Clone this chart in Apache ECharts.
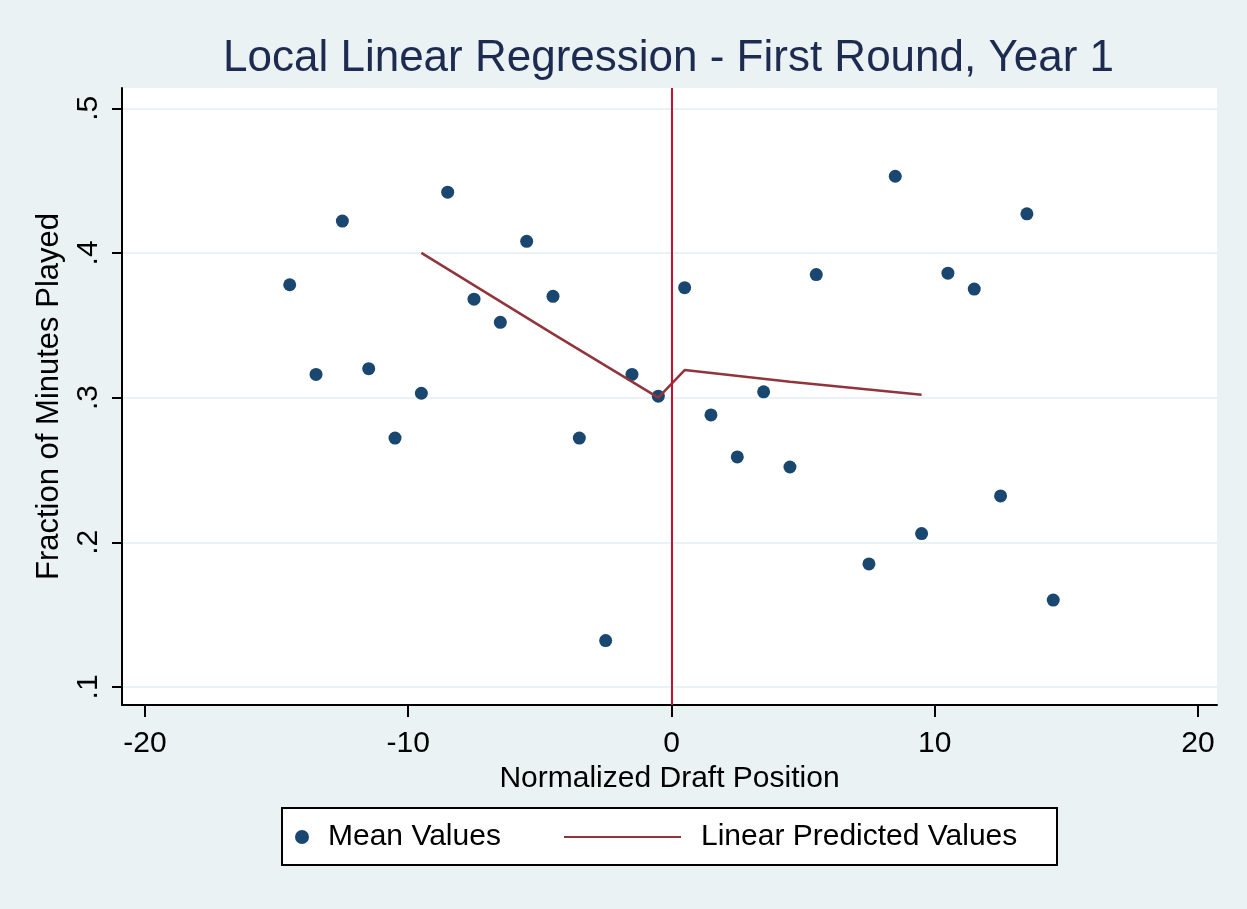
<!DOCTYPE html>
<html>
<head>
<meta charset="utf-8">
<title>Local Linear Regression - First Round, Year 1</title>
<script src="https://cdn.jsdelivr.net/npm/echarts@6/dist/echarts.min.js"></script>
<style>
  html, body { margin: 0; padding: 0; background: #eaf2f3; }
  #chart { width: 1247px; height: 909px; }
</style>
</head>
<body>
<div id="chart"></div>
<script>
// mean values per draft position bin
const meanX = [-14.5, -13.5, -12.5, -11.5, -10.5, -9.5, -8.5, -7.5, -6.5, -5.5, -4.5, -3.5, -2.5, -1.5, -0.5,
  0.5, 1.5, 2.5, 3.5, 4.5, 5.5, 7.5, 8.5, 9.5, 10.5, 11.5, 12.5, 13.5, 14.5];
const meanY = [0.378, 0.316, 0.422, 0.320, 0.272, 0.303, 0.442, 0.368, 0.352, 0.408, 0.370, 0.272, 0.132, 0.316, 0.301,
  0.376, 0.288, 0.259, 0.304, 0.252, 0.385, 0.185, 0.453, 0.206, 0.386, 0.375, 0.232, 0.427, 0.160];

// local linear fit
const fitX = [-9.5, -4.5, -0.5, 0.5, 4.5, 9.5];
const fitY = [0.400, 0.344, 0.300, 0.319, 0.311, 0.302];

const xTicks = [-20, -10, 0, 10, 20];
const yTicks = [0.1, 0.2, 0.3, 0.4, 0.5];

const font = "'Liberation Sans', Arial, sans-serif";

const chart = echarts.init(document.getElementById("chart"));
chart.setOption({
  backgroundColor: "#eaf2f3",
  animation: false,
  title: {
    text: "Local Linear Regression - First Round, Year 1",
    left: 218,
    top: 32,
    textStyle: { fontFamily: font, fontSize: 44, fontWeight: "normal", color: "#1e2b50" }
  },
  grid: {
    left: 122,
    right: 30,
    top: 88,
    bottom: 204,
    show: true,
    backgroundColor: "#ffffff",
    borderWidth: 0
  },
  xAxis: {
    type: "value",
    min: -20.87,
    max: 20.72,
    name: "Normalized Draft Position",
    nameLocation: "middle",
    nameGap: 53,
    nameTextStyle: { fontFamily: font, fontSize: 30, color: "#000" },
    axisLine: { onZero: false, lineStyle: { color: "#000", width: 2 } },
    axisTick: { length: 12, customValues: xTicks, lineStyle: { color: "#000", width: 2 } },
    axisLabel: { customValues: xTicks, margin: 24, fontFamily: font, fontSize: 30, color: "#000" },
    splitLine: { show: false }
  },
  yAxis: {
    type: "value",
    min: 0.0875,
    max: 0.514,
    name: "Fraction of Minutes Played",
    nameLocation: "middle",
    nameGap: 57,
    nameTextStyle: { fontFamily: font, fontSize: 31, color: "#000" },
    axisLine: { show: true, onZero: false, lineStyle: { color: "#000", width: 2 } },
    axisTick: { show: true, length: 10, customValues: yTicks, lineStyle: { color: "#000", width: 2 } },
    axisLabel: {
      customValues: yTicks,
      rotate: 90,
      margin: 18,
      fontFamily: font,
      fontSize: 30,
      color: "#000",
      formatter: function (v) { return String(v).replace(/^0/, ""); }
    },
    splitLine: { show: true, lineStyle: { color: "#eaf2f3", width: 2 } }
  },
  legend: [
    {
      data: ["Mean Values"],
      left: 295,
      top: 819,
      padding: 0,
      selectedMode: false,
      itemWidth: 14,
      itemHeight: 14,
      itemStyle: { opacity: 1 },
      textStyle: { fontFamily: font, fontSize: 30, color: "#000", lineHeight: 36, padding: [0, 0, 0, 14] }
    },
    {
      data: ["Linear Predicted Values"],
      left: 563,
      top: 819,
      padding: 0,
      selectedMode: false,
      itemWidth: 117,
      itemHeight: 14,
      itemStyle: { opacity: 0 },
      textStyle: { fontFamily: font, fontSize: 30, color: "#000", lineHeight: 36, padding: [0, 0, 0, 15] }
    }
  ],
  graphic: [
    {
      type: "rect",
      z: -1,
      shape: { x: 282, y: 808, width: 775, height: 57 },
      style: { fill: "#ffffff", stroke: "#000", lineWidth: 2 }
    }
  ],
  series: [
    {
      name: "Mean Values",
      type: "scatter",
      symbol: "circle",
      symbolSize: 13,
      itemStyle: { color: "#1a476f", opacity: 1 },
      data: meanX.map((x, i) => [x, meanY[i]]),
      z: 3
    },
    {
      name: "Linear Predicted Values",
      type: "line",
      symbol: "none",
      lineStyle: { color: "#90353b", width: 2.5 },
      itemStyle: { color: "#90353b" },
      data: fitX.map((x, i) => [x, fitY[i]]),
      z: 4,
      markLine: {
        silent: true,
        symbol: "none",
        label: { show: false },
        lineStyle: { color: "#c8102e", width: 2, type: "solid" },
        data: [{ xAxis: 0 }]
      }
    }
  ]
});
</script>
</body>
</html>
